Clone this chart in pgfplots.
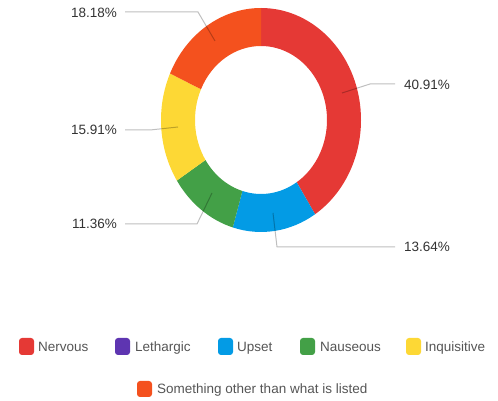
\documentclass[border=0pt]{standalone}
\usepackage{pgfplots}
\usepackage{pgfplotstable}
\pgfplotsset{compat=1.18}
\usepackage{fontspec}
\setmainfont{Liberation Sans}
\definecolor{c0}{HTML}{E53935}
\definecolor{c1}{HTML}{5E35B1}
\definecolor{c2}{HTML}{039BE5}
\definecolor{c3}{HTML}{43A047}
\definecolor{c4}{HTML}{FDD835}
\definecolor{c5}{HTML}{F4511E}
\definecolor{labtxt}{HTML}{333333}
\definecolor{legtxt}{HTML}{555555}
\pgfplotstableread{
label value
Nervous 40.91
Lethargic 0
Upset 13.64
Nauseous 11.36
Inquisitive 15.91
Other 18.18
}\datatable
\newcommand\SA[1]{\csname sa#1\endcsname}
\newcommand\EA[1]{\csname ea#1\endcsname}
\begin{document}
\def\cum{0}%
\pgfplotsforeachungrouped \i in {0,...,5}{%
  \pgfplotstablegetelem{\i}{value}\of\datatable
  \pgfmathsetmacro\start{90-3.6*\cum}%
  \pgfmathsetmacro\cum{\cum+\pgfplotsretval}%
  \pgfmathsetmacro\stop{90-3.6*\cum}%
  \expandafter\xdef\csname sa\i\endcsname{\start}%
  \expandafter\xdef\csname ea\i\endcsname{\stop}%
}%
\begin{tikzpicture}[
  lab/.style={font=\fontsize{13.5}{15}\selectfont, text=labtxt, inner sep=0pt, text height=9.6pt, text depth=0pt},
  leg/.style={font=\fontsize{13.5}{15}\selectfont, text=legtxt, inner sep=0pt, text height=9.6pt, text depth=0pt, anchor=west},
  lead/.style={draw=black, draw opacity=0.25, line width=1pt},
  sq/.style={rounded corners=3pt}
]
\begin{axis}[
  x=1pt, y=1pt, xmin=0, xmax=498, ymin=0, ymax=401,
  hide axis, clip=false
]
\path (axis cs:0,0) rectangle (axis cs:498,401);
% donut segments (center 261,281; outer radii 100x112; inner 66x74)
\pgfplotsinvokeforeach{0,2,3,4,5}{
  \fill[c#1] (axis cs:{261+100*cos(\SA{#1})},{281+112*sin(\SA{#1})})
    arc[start angle=\SA{#1}, end angle=\EA{#1}, x radius=100pt, y radius=112pt]
    -- (axis cs:{261+66*cos(\EA{#1})},{281+74*sin(\EA{#1})})
    arc[start angle=\EA{#1}, end angle=\SA{#1}, x radius=66pt, y radius=74pt]
    -- cycle;
}
% leader lines
\draw[lead] (axis cs:342,308) -- (axis cs:370,317) -- (axis cs:395,317);
\draw[lead] (axis cs:273,188) -- (axis cs:277,154) -- (axis cs:395,154);
\draw[lead] (axis cs:212,208) -- (axis cs:197,177) -- (axis cs:125,177);
\draw[lead] (axis cs:178,274) -- (axis cs:150,271) -- (axis cs:125,271);
\draw[lead] (axis cs:215,360) -- (axis cs:198,389) -- (axis cs:125,389);
% labels
\node[lab, anchor=west] at (axis cs:404,316) {40.91\%};
\node[lab, anchor=west] at (axis cs:404,154) {13.64\%};
\node[lab, anchor=east] at (axis cs:117,177) {11.36\%};
\node[lab, anchor=east] at (axis cs:117,271) {15.91\%};
\node[lab, anchor=east] at (axis cs:117,388) {18.18\%};
% legend
\fill[c0, sq] (axis cs:19,46) rectangle (axis cs:34,63);
\node[leg] at (axis cs:38,54.5) {Nervous};
\fill[c1, sq] (axis cs:115,46) rectangle (axis cs:130,63);
\node[leg] at (axis cs:135,54.5) {Lethargic};
\fill[c2, sq] (axis cs:218,46) rectangle (axis cs:233,63);
\node[leg] at (axis cs:237,54.5) {Upset};
\fill[c3, sq] (axis cs:300,46) rectangle (axis cs:315,63);
\node[leg] at (axis cs:320,54.5) {Nauseous};
\fill[c4, sq] (axis cs:406,46) rectangle (axis cs:421,63);
\node[leg] at (axis cs:425,54.5) {Inquisitive};
\fill[c5, sq] (axis cs:137,4) rectangle (axis cs:152,20);
\node[leg] at (axis cs:157,12) {Something other than what is listed};
\end{axis}
\end{tikzpicture}
\end{document}
